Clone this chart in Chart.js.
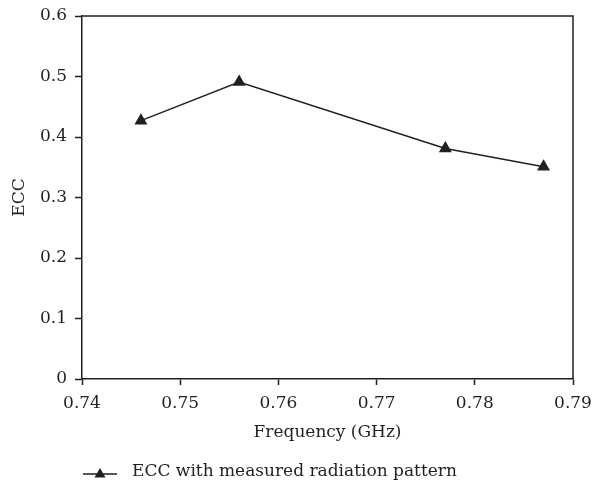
<!DOCTYPE html>
<html>
    <head>
        <meta charset="utf-8">
        <title>ECC vs frequency</title>
        <script src="https://cdn.jsdelivr.net/npm/chart.js@4.4.0/dist/chart.umd.js"></script>
        <style>
            body { margin: 0; background: #fff; }
            #wrap { width: 593px; height: 487px; }
        </style>
    </head>
    <body>
        <div id="wrap"><canvas id="eccChart" width="593" height="487"></canvas></div>

        <script>
            // measured points
            const frequency = [0.746, 0.756, 0.777, 0.787];
            const ecc = [0.427, 0.491, 0.381, 0.351];
            const seriesName = "ECC with measured radiation pattern";

            const ink = "#231f20";
            const font = "'DejaVu Serif', serif";
            const fontSize = 17;

            let points = [];
            for (let i = 0; i < frequency.length; i++) {
                points.push({x: frequency[i], y: ecc[i]});
            }

            // closes the box on top and right, and draws the legend under the axis
            const framePlugin = {
                id: "frame",
                afterDraw(chart) {
                    const c = chart.ctx;
                    const a = chart.chartArea;
                    c.save();
                    c.strokeStyle = ink;
                    c.lineWidth = 1.5;
                    c.beginPath();
                    c.moveTo(a.left, a.top);
                    c.lineTo(a.right, a.top);
                    c.lineTo(a.right, a.bottom);
                    c.stroke();

                    // legend
                    const ly = 474;
                    c.beginPath();
                    c.moveTo(83, ly);
                    c.lineTo(117, ly);
                    c.stroke();
                    c.fillStyle = ink;
                    c.beginPath();
                    c.moveTo(100, ly - 6);
                    c.lineTo(105.5, ly + 3.5);
                    c.lineTo(94.5, ly + 3.5);
                    c.closePath();
                    c.fill();
                    c.font = fontSize + "px " + font;
                    c.textBaseline = "middle";
                    c.fillText(seriesName, 132, ly - 2);
                    c.restore();
                }
            };

            new Chart(document.getElementById("eccChart"), {
                type: "line",
                data: {
                    datasets: [{
                        label: seriesName,
                        data: points,
                        borderColor: ink,
                        backgroundColor: ink,
                        borderWidth: 1.5,
                        pointStyle: "triangle",
                        pointRadius: 6,
                        pointHoverRadius: 6,
                        tension: 0
                    }]
                },
                options: {
                    responsive: false,
                    animation: false,
                    layout: { padding: { left: 0, right: 20, top: 16, bottom: 44 } },
                    plugins: {
                        legend: { display: false },
                        tooltip: { enabled: false }
                    },
                    scales: {
                        x: {
                            type: "linear",
                            min: 0.74,
                            max: 0.79,
                            afterFit(scale) {
                                scale.height = 64;
                                scale.paddingLeft = 0;
                                scale.paddingRight = 0;
                            },
                            ticks: {
                                stepSize: 0.01,
                                color: ink,
                                padding: 8,
                                font: { family: font, size: fontSize },
                                callback: v => v.toFixed(2)
                            },
                            grid: { drawOnChartArea: false, tickLength: 6, tickColor: ink, tickWidth: 1.5 },
                            border: { color: ink, width: 1.5 },
                            title: {
                                display: true,
                                text: "Frequency (GHz)",
                                color: ink,
                                padding: 0,
                                font: { family: font, size: fontSize }
                            }
                        },
                        y: {
                            min: 0,
                            max: 0.6,
                            afterFit(scale) {
                                scale.width = 82;
                                scale.paddingTop = 0;
                                scale.paddingBottom = 0;
                            },
                            ticks: {
                                stepSize: 0.1,
                                color: ink,
                                padding: 8,
                                font: { family: font, size: fontSize },
                                callback: v => v === 0 ? "0" : v.toFixed(1)
                            },
                            grid: { drawOnChartArea: false, tickLength: 7, tickColor: ink, tickWidth: 1.5 },
                            border: { color: ink, width: 1.5 },
                            title: {
                                display: true,
                                text: "ECC",
                                color: ink,
                                padding: { top: 9, bottom: 0 },
                                font: { family: font, size: fontSize }
                            }
                        }
                    }
                },
                plugins: [framePlugin]
            });
        </script>
    </body>
</html>
